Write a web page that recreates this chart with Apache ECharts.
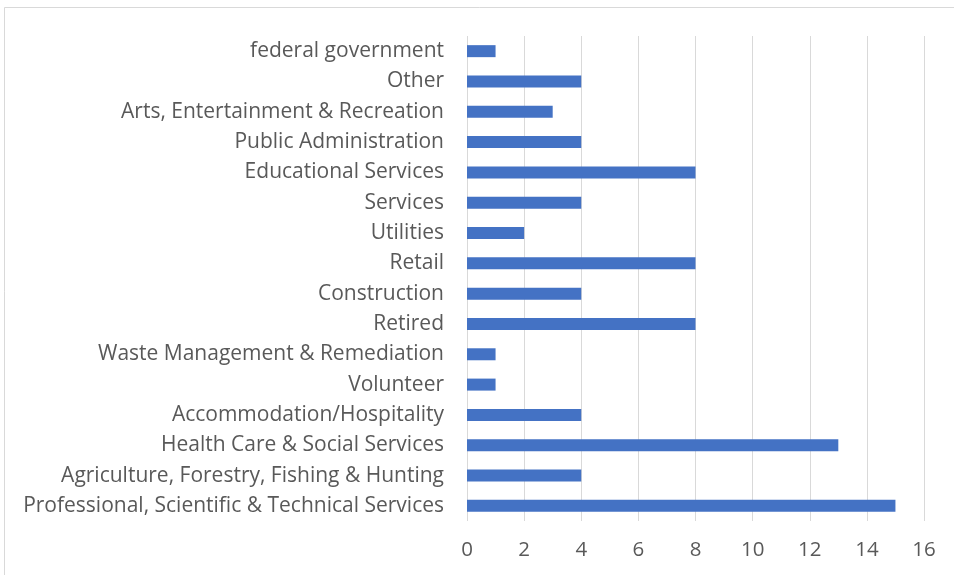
<!DOCTYPE html>
<html>
<head>
<meta charset="utf-8">
<script src="https://cdn.jsdelivr.net/npm/echarts@6/dist/echarts.min.js"></script>
<style>
html,body{margin:0;padding:0;background:#fff;}
#chart{width:954px;height:575px;}
</style>
</head>
<body>
<div id="chart"></div>
<script>
// Industry categories, listed bottom to top
const categories = [
  'Professional, Scientific & Technical Services',
  'Agriculture, Forestry, Fishing & Hunting',
  'Health Care & Social Services',
  'Accommodation/Hospitality',
  'Volunteer',
  'Waste Management & Remediation',
  'Retired',
  'Construction',
  'Retail',
  'Utilities',
  'Services',
  'Educational Services',
  'Public Administration',
  'Arts, Entertainment & Recreation',
  'Other',
  'federal government'
];
const counts = [15, 4, 13, 4, 1, 1, 8, 4, 8, 2, 4, 8, 4, 3, 4, 1];
const xTicks = { min: 0, max: 16, step: 2 };

const chart = echarts.init(document.getElementById('chart'));
chart.setOption({
  animation: false,
  backgroundColor: '#fff',
  graphic: [{
    type: 'rect',
    shape: { x: 4.5, y: 7.5, width: 960, height: 580 },
    style: { fill: 'none', stroke: '#d9d9d9', lineWidth: 1 },
    silent: true
  }],
  grid: { left: 467, right: 30, top: 36, bottom: 54, containLabel: false },
  xAxis: {
    type: 'value',
    min: xTicks.min, max: xTicks.max, interval: xTicks.step,
    axisLine: { show: false },
    axisTick: { show: false },
    splitLine: { lineStyle: { color: '#d9d9d9', width: 1 } },
    axisLabel: { color: '#595959', fontSize: 20.5, fontFamily: 'Open Sans', margin: 19 }
  },
  yAxis: {
    type: 'category',
    data: categories,
    axisLine: { show: false },
    axisTick: { show: false },
    axisLabel: { color: '#595959', fontSize: 21, fontFamily: 'Open Sans', margin: 23 }
  },
  series: [{
    type: 'bar',
    data: counts,
    barWidth: 12,
    itemStyle: { color: '#4472c4' }
  }]
});
</script>
</body>
</html>
